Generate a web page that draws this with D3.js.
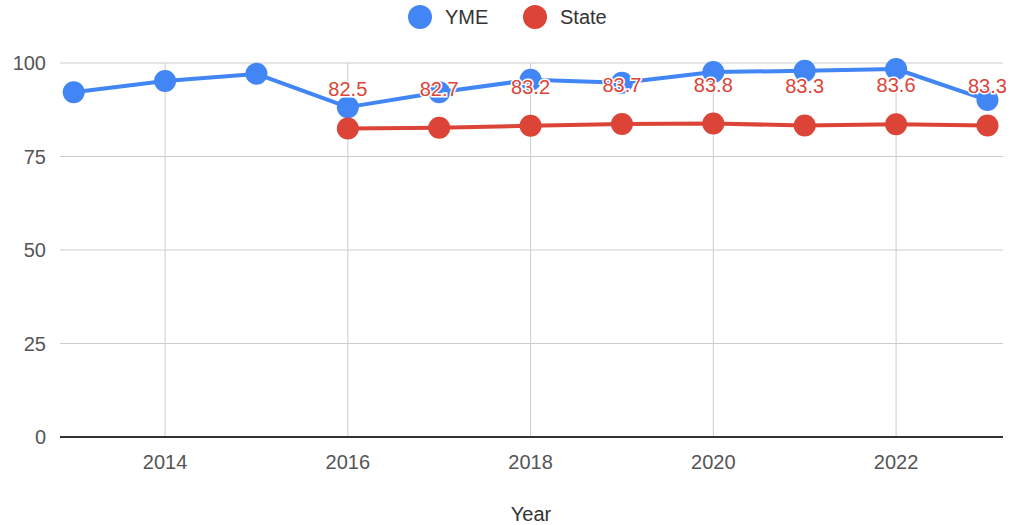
<!DOCTYPE html>
<html>
<head>
<meta charset="utf-8">
<script src="https://cdn.jsdelivr.net/npm/d3@7"></script>
<style>
  body { margin: 0; background: #fff; }
  text { font-family: Arial, "Liberation Sans", sans-serif; }
</style>
</head>
<body>
<svg id="chart" width="1017" height="525"></svg>
<script>
var years = [2013, 2014, 2015, 2016, 2017, 2018, 2019, 2020, 2021, 2022, 2023];
var ymeVals = [92.2, 95.2, 97.1, 88.2, 92.2, 95.5, 94.7, 97.6, 97.9, 98.4, 90.1];
var stateYears = [2016, 2017, 2018, 2019, 2020, 2021, 2022, 2023];
var stateVals = [82.5, 82.7, 83.2, 83.7, 83.8, 83.3, 83.6, 83.3];
var xTicks = [2014, 2016, 2018, 2020, 2022];
var yTicks = [0, 25, 50, 75, 100];

var blue = '#4285f4', red = '#db4437';
var svg = d3.select('#chart');

var x = d3.scaleLinear().domain([2012.85, 2023.17]).range([60, 1003]);
var y = d3.scaleLinear().domain([0, 100]).range([437, 63]);

// horizontal grid + y labels
svg.selectAll('.hgrid').data(yTicks.filter(function(d){ return d > 0; })).enter().append('line')
  .attr('x1', 60).attr('x2', 1003)
  .attr('y1', function(d){ return y(d); }).attr('y2', function(d){ return y(d); })
  .attr('stroke', '#cccccc').attr('stroke-width', 1);

svg.selectAll('.ylab').data(yTicks).enter().append('text')
  .attr('x', 46).attr('y', function(d){ return y(d) + 7; })
  .attr('text-anchor', 'end').attr('font-size', 20).attr('fill', '#555')
  .text(function(d){ return d; });

// vertical grid + x labels
svg.selectAll('.vgrid').data(xTicks).enter().append('line')
  .attr('x1', function(d){ return x(d); }).attr('x2', function(d){ return x(d); })
  .attr('y1', y(100)).attr('y2', y(0))
  .attr('stroke', '#cccccc').attr('stroke-width', 1);

svg.selectAll('.xlab').data(xTicks).enter().append('text')
  .attr('x', function(d){ return x(d); }).attr('y', 469)
  .attr('text-anchor', 'middle').attr('font-size', 20).attr('fill', '#555')
  .text(function(d){ return d; });

// baseline
svg.append('line').attr('x1', 60).attr('x2', 1003).attr('y1', y(0)).attr('y2', y(0))
  .attr('stroke', '#333').attr('stroke-width', 2);

svg.append('text').attr('x', 531).attr('y', 521).attr('text-anchor', 'middle')
  .attr('font-size', 20).attr('fill', '#333').text('Year');

var line = d3.line().x(function(d){ return x(d[0]); }).y(function(d){ return y(d[1]); });

var yme = years.map(function(yr, i){ return [yr, ymeVals[i]]; });
var state = stateYears.map(function(yr, i){ return [yr, stateVals[i]]; });

svg.append('path').datum(yme).attr('d', line).attr('fill', 'none')
  .attr('stroke', blue).attr('stroke-width', 4).attr('stroke-linejoin', 'round');
svg.selectAll('.ymept').data(yme).enter().append('circle')
  .attr('cx', function(d){ return x(d[0]); }).attr('cy', function(d){ return y(d[1]); })
  .attr('r', 11).attr('fill', blue);

svg.append('path').datum(state).attr('d', line).attr('fill', 'none')
  .attr('stroke', red).attr('stroke-width', 4).attr('stroke-linejoin', 'round');
svg.selectAll('.statept').data(state).enter().append('circle')
  .attr('cx', function(d){ return x(d[0]); }).attr('cy', function(d){ return y(d[1]); })
  .attr('r', 11).attr('fill', red);

// data labels with white halo
svg.selectAll('.slab').data(state).enter().append('text')
  .attr('x', function(d){ return x(d[0]); }).attr('y', function(d){ return y(d[1]) - 32; })
  .attr('text-anchor', 'middle').attr('font-size', 20).attr('fill', red)
  .attr('stroke', '#fff').attr('stroke-width', 3).attr('paint-order', 'stroke')
  .text(function(d){ return d[1].toFixed(1); });

// legend
var legend = [['YME', blue, 420], ['State', red, 535]];
legend.forEach(function(l){
  svg.append('circle').attr('cx', l[2]).attr('cy', 17).attr('r', 12).attr('fill', l[1]);
  svg.append('text').attr('x', l[2] + 25).attr('y', 24).attr('font-size', 20)
    .attr('fill', '#333').text(l[0]);
});
</script>
</body>
</html>
